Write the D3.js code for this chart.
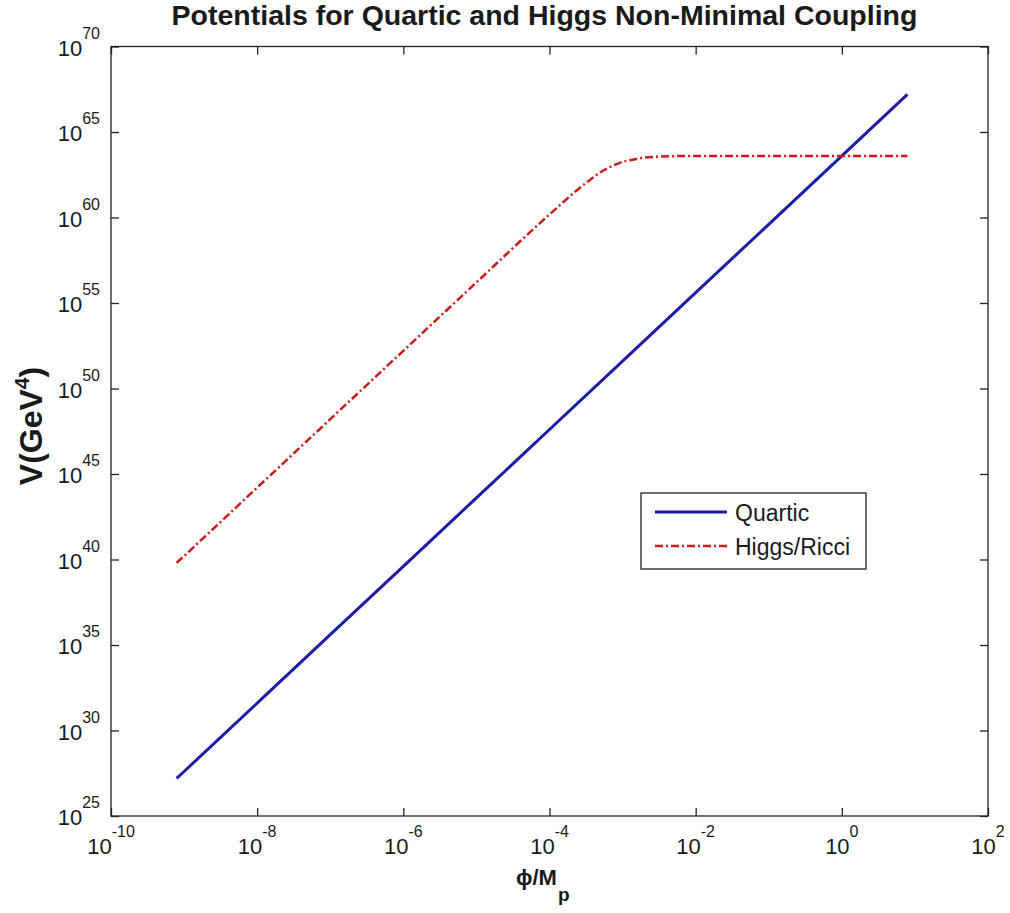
<!DOCTYPE html>
<html>
<head>
<meta charset="utf-8">
<script src="https://cdn.jsdelivr.net/npm/d3@7"></script>
<style>
  html, body { margin: 0; padding: 0; background: #fff; }
  svg { display: block; }
  text { font-family: "Liberation Sans", Arial, sans-serif; fill: #1a1a1a; }
</style>
</head>
<body>
<svg id="chart" width="1010" height="913"></svg>
<script>
// ---- data ----
const title = "Potentials for Quartic and Higgs Non-Minimal Coupling";
const xTickValues = [1e-10, 1e-8, 1e-6, 1e-4, 1e-2, 1e0, 1e2];
const xTickExponents = ["-10", "-8", "-6", "-4", "-2", "0", "2"];
const yTickValues = [1e25, 1e30, 1e35, 1e40, 1e45, 1e50, 1e55, 1e60, 1e65, 1e70];
const yTickExponents = ["25", "30", "35", "40", "45", "50", "55", "60", "65", "70"];
const seriesNames = ["Quartic", "Higgs/Ricci"];

const phiQuartic = [7.9e-10, 1e-9, 1e-8, 1e-7, 1e-6, 1e-5, 1e-4, 1e-3, 1e-2, 1e-1, 1, 7.9];
const quartic = [1.6e27, 4.0e27, 4.0e31, 4.0e35, 4.0e39, 4.0e43, 4.0e47, 4.0e51, 4.0e55, 4.0e59, 4.0e63, 1.6e67];

const phiHiggs = [7.9e-10, 1e-9, 1e-8, 1e-7, 1e-6, 1e-5, 1e-4, 3.2e-4, 5.6e-4, 7.5e-4,
                  1e-3, 1.3e-3, 1.8e-3, 3.2e-3, 1e-2, 1e-1, 1, 7.9];
const higgs = [6.3e39, 1.6e40, 1.6e44, 1.6e48, 1.6e52, 1.6e56, 1.5e60, 1.1e62, 6.0e62, 1.1e63,
               1.8e63, 2.3e63, 3.0e63, 3.6e63, 4.0e63, 4.0e63, 4.0e63, 4.0e63];

// ---- layout ----
const svg = d3.select("#chart");
const L = 111, R = 988, T = 46.5, B = 816;
const x = d3.scaleLog().domain([1e-10, 1e2]).range([L, R]);
const y = d3.scaleLog().domain([1e25, 1e70]).range([B, T]);
const axisColor = "#222";
const tickLen = 8;

// Title
svg.append("text")
  .attr("x", (172 + 917) / 2).attr("y", 25)
  .attr("text-anchor", "middle")
  .style("font-size", "28.5px").style("font-weight", "bold")
  .text(title);

// Axes via d3 (inward ticks on all four sides)
const gx = svg.append("g").attr("transform", `translate(0,${B})`)
  .call(d3.axisBottom(x).tickValues(xTickValues).tickSizeInner(-tickLen).tickSizeOuter(0).tickFormat(""));
const gxTop = svg.append("g").attr("transform", `translate(0,${T})`)
  .call(d3.axisTop(x).tickValues(xTickValues).tickSizeInner(-tickLen).tickSizeOuter(0).tickFormat(""));
const gy = svg.append("g").attr("transform", `translate(${L},0)`)
  .call(d3.axisLeft(y).tickValues(yTickValues).tickSizeInner(-tickLen).tickSizeOuter(0).tickFormat(""));
const gyR = svg.append("g").attr("transform", `translate(${R},0)`)
  .call(d3.axisRight(y).tickValues(yTickValues).tickSizeInner(-tickLen).tickSizeOuter(0).tickFormat(""));
[gx, gxTop, gy, gyR].forEach(g => {
  g.selectAll(".domain").remove();
  g.selectAll(".tick line").attr("stroke", axisColor).attr("stroke-width", 1.3);
});
// box
svg.append("rect")
  .attr("x", L).attr("y", T).attr("width", R - L).attr("height", B - T)
  .attr("fill", "none").attr("stroke", axisColor).attr("stroke-width", 1.3);

// X tick labels
xTickValues.forEach((v, i) => {
  const t = svg.append("text")
    .attr("x", x(v)).attr("y", B + 38)
    .attr("text-anchor", "middle")
    .style("font-size", "22px");
  t.append("tspan").text("10");
  t.append("tspan").attr("dy", -17).style("font-size", "16px").text(xTickExponents[i]);
});
// Y tick labels
yTickValues.forEach((v, i) => {
  const t = svg.append("text")
    .attr("x", L - 11).attr("y", y(v) + 9)
    .attr("text-anchor", "end")
    .style("font-size", "22px");
  t.append("tspan").text("10");
  t.append("tspan").attr("dy", -17).style("font-size", "16px").text(yTickExponents[i]);
});

// Axis labels
const xl = svg.append("text")
  .attr("x", 516).attr("y", 885)
  .style("font-size", "22px").style("font-weight", "bold");
xl.append("tspan").text("\u03D5/M");
xl.append("tspan").attr("dy", 16).attr("dx", 1).style("font-size", "19px").text("p");

const yl = svg.append("text")
  .attr("transform", "translate(42,426) rotate(-90)")
  .attr("text-anchor", "middle")
  .style("font-size", "32px").style("font-weight", "bold");
yl.append("tspan").text("V(GeV");
yl.append("tspan").attr("dy", -13).style("font-size", "21px").text("4");
yl.append("tspan").attr("dy", 13).text(")");

// Lines
const lineLinear = d3.line().x(d => x(d[0])).y(d => y(d[1]));
const lineSmooth = d3.line().x(d => x(d[0])).y(d => y(d[1])).curve(d3.curveMonotoneX);

svg.append("clipPath").attr("id", "clip")
  .append("rect").attr("x", L).attr("y", T).attr("width", R - L).attr("height", B - T);

const plot = svg.append("g").attr("clip-path", "url(#clip)");
plot.append("path")
  .datum(d3.zip(phiQuartic, quartic))
  .attr("d", lineLinear)
  .attr("fill", "none").attr("stroke", "#1c1ca8").attr("stroke-width", 3)
  .attr("stroke-linejoin", "round");
plot.append("path")
  .datum(d3.zip(phiHiggs, higgs))
  .attr("d", lineSmooth)
  .attr("fill", "none").attr("stroke", "#cc1a1a").attr("stroke-width", 2.5)
  .attr("stroke-dasharray", "8,3,2,3");

// Legend
const lg = svg.append("g");
lg.append("rect")
  .attr("x", 641).attr("y", 493).attr("width", 225).attr("height", 76)
  .attr("fill", "#fff").attr("stroke", axisColor).attr("stroke-width", 1.3);
const legendStyles = [
  { color: "#1c1ca8", dash: null, width: 3 },
  { color: "#cc1a1a", dash: "8,3,2,3", width: 2.5 }
];
seriesNames.forEach((name, i) => {
  const yy = 512 + i * 34;
  lg.append("line")
    .attr("x1", 655).attr("x2", 727).attr("y1", yy).attr("y2", yy)
    .attr("stroke", legendStyles[i].color).attr("stroke-width", legendStyles[i].width)
    .attr("stroke-dasharray", legendStyles[i].dash);
  lg.append("text")
    .attr("x", 735).attr("y", yy + 9)
    .style("font-size", "23px")
    .text(name);
});
</script>
</body>
</html>
